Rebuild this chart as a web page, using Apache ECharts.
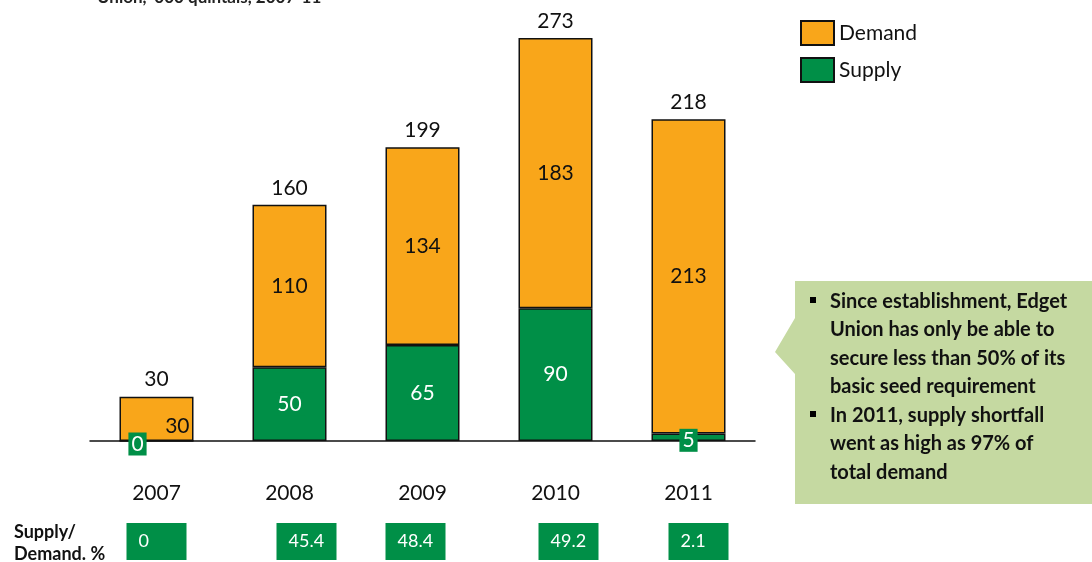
<!DOCTYPE html>
<html>
<head>
<meta charset="utf-8">
<script src="https://cdn.jsdelivr.net/npm/echarts@6/dist/echarts.min.js"></script>
<style>
  html, body { margin: 0; padding: 0; background: #fff; }
  #chart { width: 1092px; height: 562px; }
</style>
</head>
<body>
<div id="chart"></div>
<script>
const years = ["2007", "2008", "2009", "2010", "2011"];
const demandTotal = [30, 160, 199, 273, 218];
const supply = [0, 50, 65, 90, 5];
const shortfall = [30, 110, 134, 183, 213];
const ratioPct = [0, 45.4, 48.4, 49.2, 2.1];
const notes = [
  "Since establishment, Edget\nUnion has only be able to\nsecure less than 50% of its\nbasic seed requirement",
  "In 2011, supply shortfall\nwent as high as 97% of\ntotal demand"
];

const ORANGE = "#F9A61A";
const GREEN = "#008F47";
const FONT = "Lato, 'Open Sans', sans-serif";
// small sideways nudges of the ratio boxes, as laid out in the slide
const boxNudge = [0, 17, -7, 13, 10];

const chart = echarts.init(document.getElementById("chart"));

const supplyData = supply.map((v) => {
  if (v === 0) return { value: v, label: { offset: [-19, 3] } };
  if (v < 10) return { value: v, label: { offset: [0, 3] } };
  return v;
});
const shortfallData = shortfall.map((v, i) =>
  supply[i] === 0 ? { value: v, label: { position: "insideBottomRight", distance: 4 } } : v
);

chart.setOption({
  animation: false,
  textStyle: { fontFamily: FONT },
  grid: { left: 90, right: 337, top: 13, bottom: 121 },
  legend: {
    data: ["Demand", "Supply"],
    orient: "vertical",
    left: 795,
    top: 15,
    icon: "rect",
    itemWidth: 33,
    itemHeight: 24,
    itemGap: 11,
    textStyle: { fontSize: 21, color: "#111", fontFamily: FONT }
  },
  xAxis: {
    type: "category",
    data: years,
    axisLine: { lineStyle: { color: "#111", width: 1.5 } },
    axisTick: { show: false },
    axisLabel: { margin: 42, fontSize: 21, color: "#111", fontFamily: FONT }
  },
  yAxis: {
    type: "value",
    min: 0,
    max: 290,
    show: false,
    splitLine: { show: false }
  },
  series: [
    {
      name: "Supply",
      type: "bar",
      stack: "s",
      barWidth: 74,
      data: supplyData,
      itemStyle: { color: GREEN, borderColor: "#111", borderWidth: 1.5 },
      label: {
        show: true,
        position: "inside",
        color: "#fff",
        fontSize: 21,
        fontFamily: FONT,
        backgroundColor: GREEN,
        padding: [2, 3, 0, 3]
      },
      z: 3
    },
    {
      name: "Demand",
      type: "bar",
      stack: "s",
      barWidth: 74,
      data: shortfallData,
      itemStyle: { color: ORANGE, borderColor: "#111", borderWidth: 1.5 },
      label: {
        show: true,
        position: "inside",
        color: "#111",
        fontSize: 21,
        fontFamily: FONT
      },
      z: 2
    },
    {
      name: "Total",
      type: "line",
      data: demandTotal,
      symbol: "circle",
      symbolSize: 1,
      showSymbol: true,
      itemStyle: { color: "rgba(0,0,0,0)" },
      lineStyle: { opacity: 0 },
      label: {
        show: true,
        position: "top",
        distance: 6,
        color: "#111",
        fontSize: 21,
        fontFamily: FONT
      },
      tooltip: { show: false },
      z: 5
    }
  ]
});

const graphics = [
  {
    type: "text",
    left: 97,
    top: -11,
    style: { text: "Union, '000 quintals, 2007-11", font: "bold 17px " + FONT, fill: "#222" }
  },
  {
    type: "text",
    left: 14,
    top: 521,
    style: { text: "Supply/\nDemand. %", font: "bold 18px " + FONT, fill: "#111", lineHeight: 22 }
  },
  {
    type: "polygon",
    shape: { points: [[795, 281], [1100, 281], [1100, 504], [795, 504], [795, 374], [775, 352], [795, 318]] },
    style: { fill: "#C5D9A1" }
  }
];

let lineY = 287;
notes.forEach((note) => {
  const lines = note.split("\n");
  graphics.push({
    type: "rect",
    shape: { x: 810, y: lineY + 10, width: 6, height: 6 },
    style: { fill: "#000" }
  });
  graphics.push({
    type: "text",
    left: 830,
    top: lineY,
    style: { text: note, font: "bold 20px " + FONT, fill: "#111", lineHeight: 28.5 }
  });
  lineY += lines.length * 28.5;
});

ratioPct.forEach((v, i) => {
  const cx = chart.convertToPixel({ xAxisIndex: 0 }, years[i]) + boxNudge[i];
  graphics.push({
    type: "rect",
    shape: { x: cx - 30, y: 523, width: 60, height: 37 },
    style: { fill: GREEN }
  });
  graphics.push({
    type: "text",
    left: cx - 18,
    top: 532,
    style: { text: String(v), font: "18px " + FONT, fill: "#fff" }
  });
});

chart.setOption({ graphic: graphics });
</script>
</body>
</html>
